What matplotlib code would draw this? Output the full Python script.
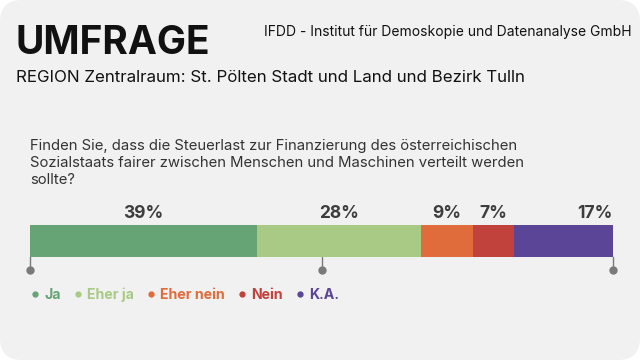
import matplotlib
matplotlib.use("Agg")
import matplotlib.pyplot as plt
from matplotlib.patches import FancyBboxPatch
from matplotlib.lines import Line2D

categories = ["Ja", "Eher ja", "Eher nein", "Nein", "K.A."]
values = [39, 28, 9, 7, 17]
colors = ["#66a476", "#a9ca85", "#e06b3b", "#c1413c", "#5b4597"]
tick_positions = [0, 50, 100]

title = "UMFRAGE"
source = "IFDD - Institut für Demoskopie und Datenanalyse GmbH"
region = "REGION Zentralraum: St. Pölten Stadt und Land und Bezirk Tulln"
question = ("Finden Sie, dass die Steuerlast zur Finanzierung des österreichischen\n"
            "Sozialstaats fairer zwischen Menschen und Maschinen verteilt werden\n"
            "sollte?")

plt.rcParams["font.family"] = ["Inter", "DejaVu Sans"]

W, H = 640, 360
fig = plt.figure(figsize=(W / 100, H / 100), dpi=100, facecolor="white")

bg = FancyBboxPatch((0, 0), W / 100, H / 100,
                    boxstyle="round,pad=0,rounding_size=0.22",
                    transform=fig.dpi_scale_trans, fc="#f1f1f1", ec="none", zorder=-10)
fig.patches.append(bg)

def fx(px):
    return px / W

def fy(py):
    return 1 - py / H

fig.text(fx(15), fy(43), title, fontsize=28, fontweight="bold", color="#111111", va="center", ha="left")
fig.text(fx(632), fy(32), source, fontsize=10, color="#111111", va="center", ha="right")
fig.text(fx(16), fy(77), region, fontsize=12.2, color="#111111", va="center", ha="left")
fig.text(fx(30), fy(163), question, fontsize=10.7, color="#333333", va="center", ha="left",
         linespacing=1.3)

# bar axes: y in pixel-like units, top of axes at 220px, bottom at 280px
ax = fig.add_axes([fx(30), fy(280), fx(613) - fx(30), (280 - 220) / H])
ax.set_xlim(0, 100)
ax.set_ylim(60, 0)
ax.axis("off")

left = 0
for i, (cat, v, c) in enumerate(zip(categories, values, colors)):
    ax.barh(21, v, left=left, height=32, color=c, edgecolor="none", zorder=2)
    if i == len(values) - 1:
        ax.text(left + v, -7, f"{v}%", ha="right", va="center", fontsize=12.5,
                fontweight="bold", color="#3d3d3d", clip_on=False)
    else:
        ax.text(left + v / 2, -7, f"{v}%", ha="center", va="center", fontsize=12.5,
                fontweight="bold", color="#3d3d3d", clip_on=False)
    left += v

for t in tick_positions:
    ax.plot([t, t], [37, 49], color="#7a7a7a", lw=1.0, zorder=1, clip_on=False)
    ax.plot([t], [50], marker="o", ms=5, color="#7a7a7a", zorder=3, clip_on=False)

handles = [Line2D([], [], marker="o", ls="none", ms=3.5, color=c) for c in colors]
leg = fig.legend(handles, categories, loc="center left", bbox_to_anchor=(fx(31), fy(295)),
                 ncol=5, frameon=False, handletextpad=0.35, columnspacing=0.9,
                 handlelength=0.6, fontsize=10.2, borderaxespad=0, borderpad=0)
for txt, c in zip(leg.get_texts(), colors):
    txt.set_color(c)
    txt.set_fontweight("bold")

fig.savefig("out.png", dpi=100, facecolor="white")
